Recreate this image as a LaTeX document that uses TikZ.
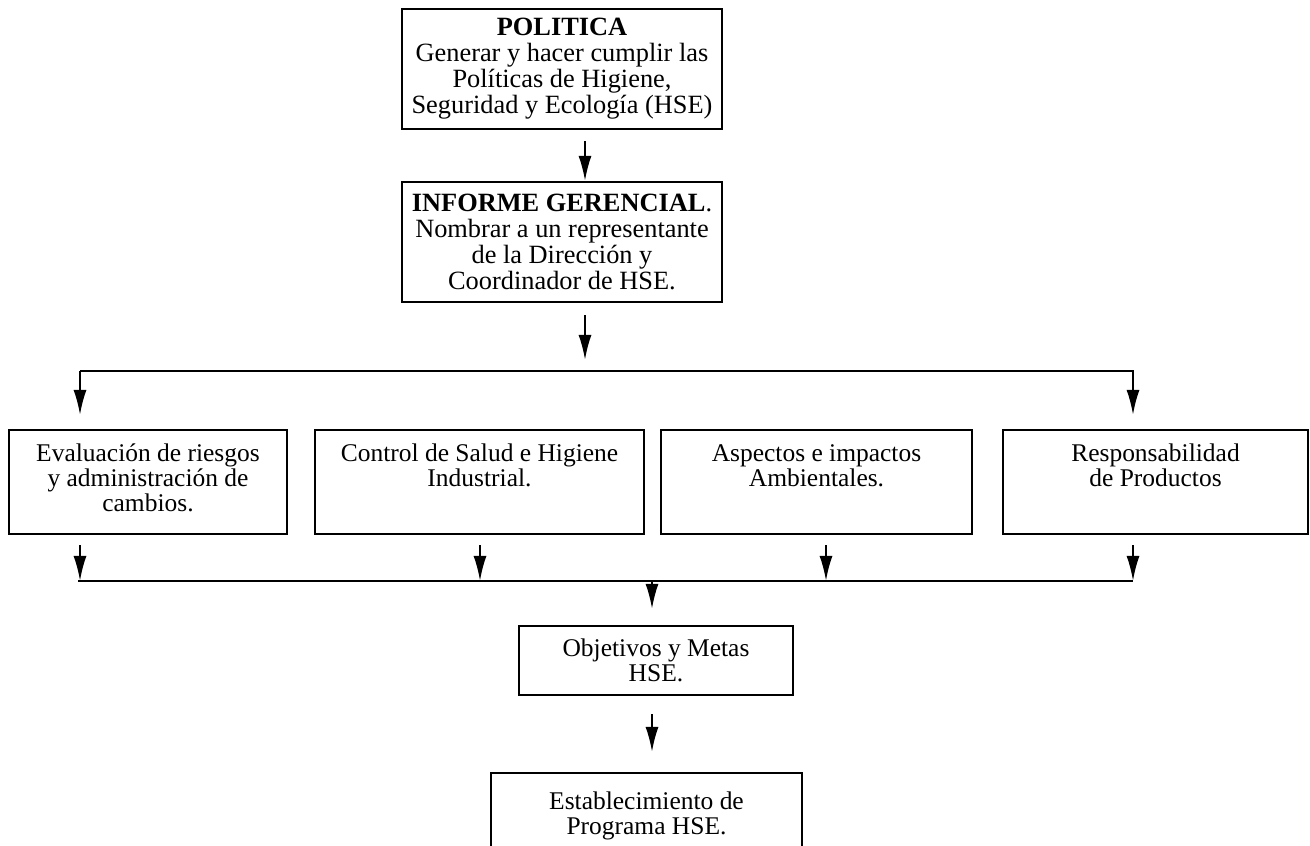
\documentclass[tikz,border=0pt]{standalone}
\usepackage{fontspec}
\setmainfont{Liberation Serif}
\usetikzlibrary{arrows.meta}

\begin{document}
\begin{tikzpicture}[line width=1.2pt,
    box/.style={draw,align=flush center,inner sep=0pt,font=\fontsize{14.5}{14.6}\selectfont},
    topbox/.style={box,minimum width=6.40cm,minimum height=2.40cm,font=\fontsize{15}{14.8}\selectfont},
    rowbox/.style={draw,anchor=north,align=flush center,inner sep=0pt,
      text height=.62cm,text depth=1.46cm,font=\fontsize{14.5}{14.4}\selectfont},
    arr/.style={-{Latex[length=.5cm,width=.26cm]}}]
  \useasboundingbox (0,0) rectangle (26.2,16.92);
  \clip (0,0) rectangle (26.2,16.92);
  \node[topbox] (pol) at (11.24,15.54)
    {\textbf{POLITICA}\\Generar y hacer cumplir las\\Políticas de Higiene,\\Seguridad y Ecología (HSE)};
  \node[topbox] (inf) at (11.24,12.08)
    {\textbf{INFORME GERENCIAL}.\\Nombrar a un representante\\de la Dirección y\\Coordinador de HSE.};
  \node[rowbox,text width=5.56cm] (eva) at (2.96,8.34)
    {Evaluación de riesgos\\y administración de\\cambios.};
  \node[rowbox,text width=6.58cm] (sal) at (9.59,8.34)
    {Control de Salud e Higiene\\Industrial.};
  \node[rowbox,text width=6.22cm] (amb) at (16.33,8.34)
    {Aspectos e impactos\\Ambientales.};
  \node[rowbox,text width=6.10cm] (res) at (23.11,8.34)
    {Responsabilidad\\de Productos};
  \node[box,minimum width=5.48cm,minimum height=1.38cm] (obj) at (13.12,3.71)
    {Objetivos y Metas\\HSE.};
  \node[rowbox,text width=6.22cm,text height=.72cm,text depth=1.5cm] (est) at (12.93,1.48)
    {Establecimiento de\\Programa HSE.};
  % branch lines
  \coordinate (sp) at (11.70,9.50); \coordinate (la) at (1.60,9.50);
  \coordinate (ra) at (22.66,9.50); \coordinate (lb) at (1.56,5.30);
  \coordinate (rb) at (22.66,5.30); \coordinate (mid) at (13.04,5.30);
  \draw[arr,shorten <=.22cm] (pol.south -| sp) -- (inf.north -| sp);
  \draw[arr,shorten <=.24cm,shorten >=.22cm] (inf.south -| sp) -- (sp);
  \draw[arr,shorten >=.28cm] (la) -- (eva.north -| la);
  \draw[arr,shorten >=.28cm] (la) -- (ra) -- (res.north -| ra);
  \draw (lb) -- (rb);
  \foreach \n/\x in {eva/1.60,sal/9.60,amb/16.52,res/22.66} {
    \coordinate (d\n) at (\x,5.30);
    \draw[arr,shorten <=.2cm] (\n.south -| d\n) -- (d\n);
  }
  \draw[arr,shorten >=.32cm] (mid) -- (obj.north -| mid);
  \draw[arr,shorten <=.36cm,shorten >=.4cm] (obj.south -| mid) -- (est.north -| mid);
\end{tikzpicture}
\end{document}
